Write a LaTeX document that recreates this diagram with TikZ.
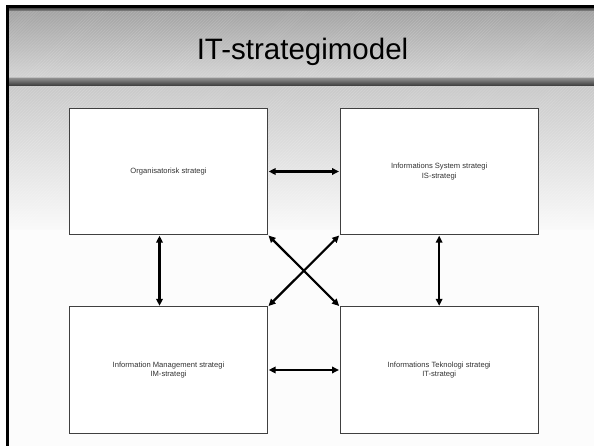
\documentclass[tikz,border=0pt]{standalone}
\usepackage{fontspec}
\setmainfont{Liberation Sans}
\usetikzlibrary{arrows.meta,patterns}
\definecolor{labelgrey}{HTML}{333333}
\tikzset{
  stratbox/.style={draw=black!75, line width=0.9bp, fill=white, minimum width=198.4bp, minimum height=126.4bp, inner sep=0pt, align=center, text=labelgrey, font=\fontsize{7.6bp}{9.7bp}\selectfont},
  link/.style={line width=2.2bp, {Triangle[length=7bp,width=6.5bp]}-{Triangle[length=7bp,width=6.5bp]}, shorten <=0.5bp, shorten >=0.5bp},
  hatch/.style={pattern=north east lines, pattern color=white, opacity=0.18}
}
\begin{document}
\begin{tikzpicture}[x=1bp,y=1bp]
\useasboundingbox (0,0) rectangle (594,446);
\fill[white] (0,0) rectangle (594,446);
% content background
\shade[top color=black!21, bottom color=black!2] (9,216) rectangle (594,360);
\fill[black!1] (9,0) rectangle (594,216);
\fill[hatch] (9,216) rectangle (594,360);
% title band
\shade[top color=black!36, bottom color=black!17] (9,368) rectangle (594,435);
\fill[hatch] (9,368) rectangle (594,435);
\shade[top color=black!72, bottom color=black!45] (9,435) rectangle (594,438);
% separator
\fill[black!25] (9,367) rectangle (594,368.5);
\shade[top color=black!48, bottom color=black!78] (9,360) rectangle (594,367);
% frame lines
\fill[black] (6,438) rectangle (594,441);
\fill[black] (6,0) rectangle (9,441);
% title
\node[anchor=base, font=\fontsize{29.5bp}{34bp}\selectfont, inner sep=0pt] (title) at (302.5,386) {IT-strategimodel};
% boxes
\node[stratbox] (org) at (168.5,274.5) {Organisatorisk strategi};
\node[stratbox] (is) at (439.15,274.5) {Informations System strategi\\IS-strategi};
\node[stratbox] (im) at (168.5,76) {Information Management strategi\\IM-strategi};
\node[stratbox] (it) at (439.15,76) {Informations Teknologi strategi\\IT-strategi};
% connectors
\draw[link] (org.east) -- (is.west);
\draw[link] (im.east) -- (it.west);
\draw[link] ([xshift=-9bp]org.south) -- ([xshift=-9bp]im.north);
\draw[link] (is.south) -- (it.north);
\draw[link] (org.south east) -- (it.north west);
\draw[link] (is.south west) -- (im.north east);
\end{tikzpicture}
\end{document}
